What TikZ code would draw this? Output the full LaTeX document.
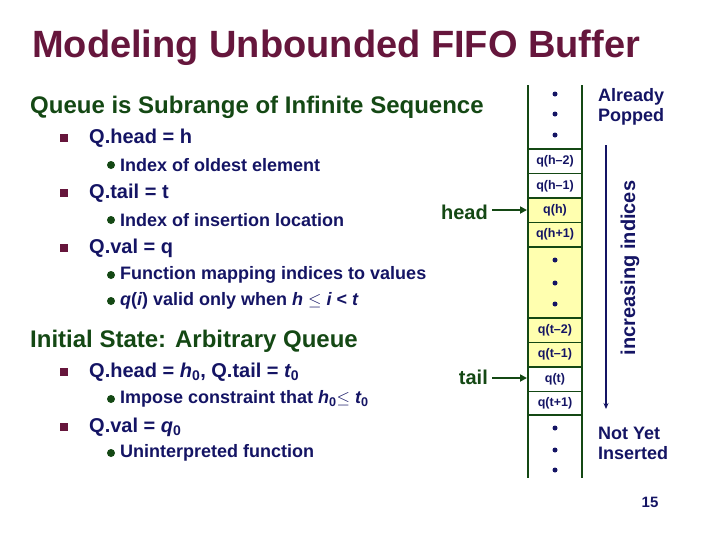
\documentclass[tikz,border=0pt]{standalone}
\usepackage{fontspec}
\setmainfont{Liberation Sans}
\usetikzlibrary{positioning,arrows.meta}
\definecolor{titlered}{RGB}{102,22,60}
\definecolor{navy}{RGB}{20,20,100}
\definecolor{darkgreen}{RGB}{20,72,20}
\definecolor{cellyellow}{RGB}{255,255,175}
\tikzset{
  head/.style={anchor=west, text=darkgreen, font=\bfseries\fontsize{24}{26}\selectfont, inner sep=0},
  lvlone/.style={anchor=west, text=navy, font=\bfseries\fontsize{20}{22}\selectfont, inner sep=0},
  lvltwo/.style={anchor=west, text=navy, font=\bfseries\fontsize{18}{20}\selectfont, inner sep=0},
  sqbul/.style={fill=titlered, minimum size=8pt, inner sep=0},
  rdbul/.style={circle, fill=darkgreen, minimum size=8pt, inner sep=0},
  celltxt/.style={text=navy, font=\bfseries\fontsize{12.5}{14}\selectfont},
  dots/.style={circle, fill=navy, minimum size=5pt, inner sep=0},
  side/.style={anchor=west, text=navy, font=\bfseries\fontsize{18}{20}\selectfont, align=left, inner sep=0},
  ptr/.style={-{Triangle[length=7pt,width=7pt]}, draw=darkgreen, line width=2.5pt}
}
\begin{document}
\begin{tikzpicture}[x=1pt,y=-1pt]
\useasboundingbox (0,0) rectangle (719,539);
% title
\node[anchor=west, text=titlered, font=\bfseries\fontsize{38}{40}\selectfont, inner sep=0] (title) at (32,48) {Modeling Unbounded FIFO Buffer};
% left text
\node[head] (queue) at (30,107) {Queue is Subrange of Infinite Sequence};
\node[sqbul] (b1) at (64,138) {};
\node[lvlone] (qhead) at (89,138) {Q.head = h};
\node[rdbul] (b11) at (111,165) {};
\node[lvltwo] (oldest) at (120,165) {Index of oldest element};
\node[sqbul] (b2) at (64,193) {};
\node[lvlone] (qtail) at (89,193) {Q.tail = t};
\node[rdbul] (b21) at (111,220) {};
\node[lvltwo] (insert) at (120,220) {Index of insertion location};
\node[sqbul] (b3) at (64,248) {};
\node[lvlone] (qval) at (89,248) {Q.val = q};
\node[rdbul] (b31) at (111,275) {};
\node[lvltwo] (mapping) at (120,275) {Function mapping indices to values};
\node[rdbul] (b32) at (111,301) {};
\node[lvltwo] (valid) at (120,301) {\itshape q\upshape(\itshape i\upshape) valid only when \itshape h\upshape\ $\le$ \itshape i\upshape\ < \itshape t};
\node[head] (init) at (30,341) {Initial State: Arbitrary Queue};
\node[sqbul] (b4) at (64,372) {};
\node[lvlone] (ihead) at (89,372) {Q.head = \itshape h\upshape\textsubscript{0}, Q.tail = \itshape t\upshape\textsubscript{0}};
\node[rdbul] (b41) at (111,399) {};
\node[lvltwo] (impose) at (120,399) {Impose constraint that \itshape h\upshape\textsubscript{0}$\le$ \itshape t\upshape\textsubscript{0}};
\node[sqbul] (b5) at (64,427) {};
\node[lvlone] (ival) at (89,427) {Q.val = \itshape q\upshape\textsubscript{0}};
\node[rdbul] (b51) at (111,453) {};
\node[lvltwo] (uninterp) at (120,453) {Uninterpreted function};
% buffer column
\fill[cellyellow] (528,198) rectangle (582,367);
\draw[draw=darkgreen, line width=1.6pt] (528,85) -- (528,478) (582,85) -- (582,478);
\foreach \y in {149,173.5,198,222.5,247,318,342.5,367,391.5,415}
  \draw[draw=darkgreen, line width=1.6pt] (528,\y) -- (582,\y);
\node[celltxt] (qhm2) at (555,161.5) {q(h--2)};
\node[celltxt] (qhm1) at (555,186) {q(h--1)};
\node[celltxt] (qh) at (555,210) {q(h)};
\node[celltxt] (qhp1) at (555,234.5) {q(h+1)};
\node[celltxt] (qtm2) at (555,330) {q(t--2)};
\node[celltxt] (qtm1) at (555,354.5) {q(t--1)};
\node[celltxt] (qt) at (555,379) {q(t)};
\node[celltxt] (qtp1) at (555,403) {q(t+1)};
\foreach \y in {94,114,135,260,283,304,428,450,470}
  \node[dots] at (555,\y) {};
% pointers
\node[anchor=east, text=darkgreen, font=\bfseries\fontsize{20}{22}\selectfont, inner sep=0] (headlbl) at (488,212) {head};
\node[anchor=east, text=darkgreen, font=\bfseries\fontsize{20}{22}\selectfont, inner sep=0] (taillbl) at (488,377) {tail};
\coordinate (headtip) at (527,210);
\coordinate (tailtip) at (527,378);
\draw[ptr] (headlbl.east |- headtip) ++(4,0) -- (headtip);
\draw[ptr] (taillbl.east |- tailtip) ++(4,0) -- (tailtip);
% increasing indices
\coordinate (arrtop) at (606,145);
\coordinate (arrbot) at (606,409);
\draw[-{Stealth[length=6pt,width=5pt]}, draw=navy, line width=1.5pt] (arrtop) -- (arrbot);
\node[rotate=90, text=navy, font=\bfseries\fontsize{20}{22}\selectfont] (incr) at (630,268) {increasing indices};
\node[side] (popped) at (598,107) {Already\\Popped};
\node[side] (notyet) at (598,443) {Not Yet\\Inserted};
\node[text=navy, font=\bfseries\fontsize{15}{16}\selectfont] (pgnum) at (650,502) {15};
\end{tikzpicture}
\end{document}
